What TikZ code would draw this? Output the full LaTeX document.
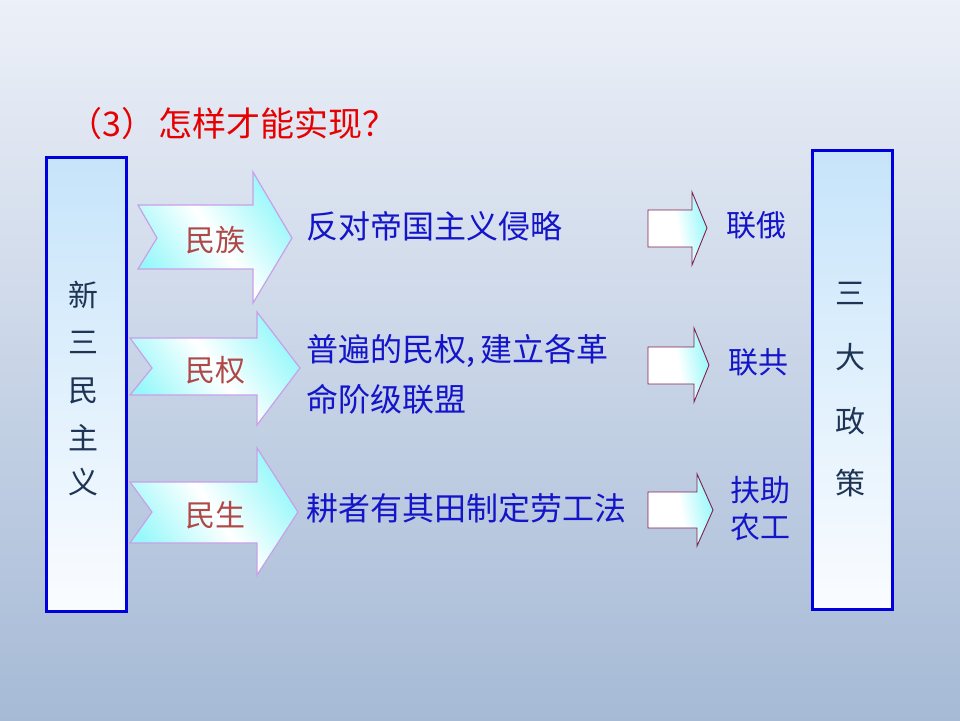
\documentclass[tikz,border=0pt]{standalone}
\usepackage{fontspec}
\newfontfamily\cjk{Noto Sans CJK SC}
\definecolor{bgtop}{RGB}{236,240,248}
\definecolor{bgbot}{RGB}{166,186,214}
\definecolor{boxblue}{RGB}{0,0,220}
\definecolor{boxtop}{RGB}{198,228,250}
\definecolor{boxbot}{RGB}{250,252,255}
\definecolor{chevline}{RGB}{200,160,232}
\definecolor{cyanfill}{RGB}{150,248,250}
\definecolor{smallline}{RGB}{128,32,80}
\definecolor{bluetext}{RGB}{20,20,200}
\definecolor{titlered}{RGB}{230,0,0}
\definecolor{labelred}{RGB}{176,72,72}
\definecolor{verttext}{RGB}{30,52,84}
\tikzset{
  bigbox/.style={draw=boxblue, line width=3pt, top color=boxtop, bottom color=boxbot},
  chevron/.style={draw=chevline, line width=1.2pt, left color=cyanfill, right color=cyanfill, middle color=white, shading angle=125},
  smallarrow/.style={draw=smallline, line width=0.9pt, left color=white, right color=cyanfill, middle color=white, shading angle=100},
  maintext/.style={inner sep=0pt, anchor=base west, text=bluetext, font=\cjk\fontsize{32}{38}\selectfont},
  sidetext/.style={inner sep=0pt, anchor=base west, text=bluetext, font=\cjk\fontsize{30}{36}\selectfont},
  labeltext/.style={inner sep=0pt, anchor=base, text=labelred, font=\cjk\fontsize{30}{36}\selectfont},
  verttextstyle/.style={inner sep=0pt, anchor=base, text=verttext, font=\cjk\fontsize{30}{36}\selectfont},
  titletext/.style={inner sep=0pt, anchor=base west, text=titlered, font=\cjk\fontsize{34}{40}\selectfont}
}
\begin{document}
\begin{tikzpicture}[x=1pt,y=-1pt]
\useasboundingbox (0,0) rectangle (960,720);
\shade[top color=bgtop, bottom color=bgbot] (0,0) rectangle (960,720);

% title
\node[titletext] (title) at (68,136) {（3）\kern3pt 怎样才能实现？};

% side boxes
\path[bigbox] (46,157) rectangle (126,611);
\path[bigbox] (812,150) rectangle (892,609);

% chevrons
\path[chevron] (138,205) -- (253,205) -- (253,172) -- (292,238) -- (253,303) -- (253,269) -- (138,269) -- (157,238) -- cycle;
\path[chevron] (130,338) -- (257,338) -- (257,312) -- (300,368) -- (257,425) -- (257,395) -- (130,395) -- (152,368) -- cycle;
\path[chevron] (130,482) -- (257,482) -- (257,448) -- (298,512) -- (257,575) -- (257,543) -- (130,543) -- (152,512) -- cycle;

% small arrows
\path[smallarrow] (648,210) -- (692,210) -- (692,192) -- (707,228) -- (692,265) -- (692,247) -- (648,247) -- cycle;
\path[smallarrow] (648,347) -- (694,347) -- (694,328) -- (709,365) -- (694,402) -- (694,384) -- (648,384) -- cycle;
\path[smallarrow] (648,492) -- (697,492) -- (697,474) -- (713,510) -- (697,546) -- (697,528) -- (648,528) -- cycle;

% chevron labels
\node[labeltext] (minzu) at (215,251) {民族};
\node[labeltext] (minquan) at (215,381) {民权};
\node[labeltext] (minsheng) at (215,526) {民生};

% middle texts
\node[maintext] (t1) at (306,238) {反对帝国主义侵略};
\node[maintext] (t2a) at (306,361) {普遍的民权,\kern5pt建立各革};
\node[maintext] (t2b) at (306,411) {命阶级联盟};
\node[maintext] (t3) at (306,520) {耕者有其田制定劳工法};

% right labels
\node[sidetext] (r1) at (726,236) {联俄};
\node[sidetext] (r2) at (728,373) {联共};
\node[sidetext] (r3a) at (730,501) {扶助};
\node[sidetext] (r3b) at (730,538) {农工};

% left vertical text
\node[verttextstyle] (l1) at (83,306) {新};
\node[verttextstyle] (l2) at (83,353) {三};
\node[verttextstyle] (l3) at (83,401) {民};
\node[verttextstyle] (l4) at (83,449) {主};
\node[verttextstyle] (l5) at (83,493) {义};

% right vertical text
\node[verttextstyle] (v1) at (850,304) {三};
\node[verttextstyle] (v2) at (850,368) {大};
\node[verttextstyle] (v3) at (850,432) {政};
\node[verttextstyle] (v4) at (850,494) {策};
\end{tikzpicture}
\end{document}
